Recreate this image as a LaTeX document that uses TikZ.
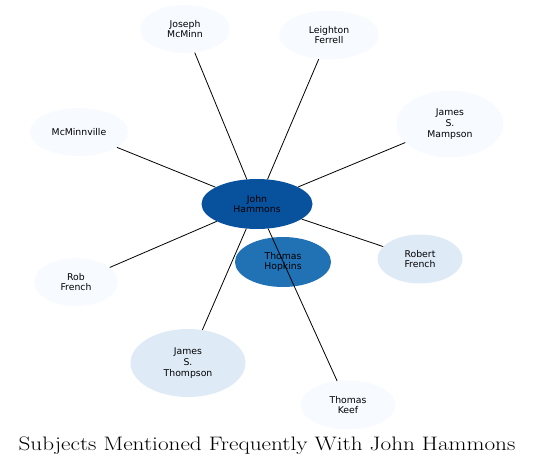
\documentclass[tikz,border=0pt]{standalone}
\usepackage{fontspec}
\usepackage{tikz}
\usetikzlibrary{shapes.geometric}
\newfontfamily\labelfont{DejaVu Sans}
\definecolor{hub}{HTML}{08519C}
\definecolor{mid}{HTML}{2171B5}
\definecolor{pale}{HTML}{DEEBF7}
\definecolor{faint}{HTML}{F7FBFF}
\tikzset{
  subj/.style={ellipse, inner sep=0pt, align=center, font=\labelfont\fontsize{9.3}{10.8}\selectfont},
  link/.style={line width=0.8pt, black},
  caption/.style={font=\fontsize{19.5}{22}\selectfont, anchor=base, xscale=1.19, transform shape},
}

\begin{document}
\begin{tikzpicture}[x=1pt,y=-1pt]
  \useasboundingbox (0,0) rectangle (535,466);
  % subjects: name/x/y/width/height/colour/label
  \foreach \n/\x/\y/\w/\h/\col/\txt in {
      jh/257/204/111/50/hub/{John\\Hammons},
      hopkins/283/262/96/50/mid/{Thomas\\Hopkins},
      mcminn/185/29/90/48/faint/{Joseph\\McMinn},
      ferrell/329/35/100/49/faint/{Leighton\\Ferrell},
      mampson/450/124/107/67/faint/{James\\S.\\Mampson},
      mcminnville/79/132/98/48/faint/{McMinnville},
      robert/420/259/85/49/pale/{Robert\\French},
      rob/76/282/84/48/faint/{Rob\\French},
      thompson/188/363/115/68/pale/{James\\S.\\Thompson},
      keef/348/405/95/49/faint/{Thomas\\Keef}} {
    \node[subj, fill=\col, minimum width=\w pt, minimum height=\h pt] (\n) at (\x,\y) {\txt};
  }
  % links from the hub
  \foreach \n in {mcminn, ferrell, mampson, mcminnville, robert, rob, thompson, keef}
    \draw[link] (jh) -- (\n);
  \node[caption] (title) at (267,450) {Subjects Mentioned Frequently With John Hammons};
\end{tikzpicture}
\end{document}
